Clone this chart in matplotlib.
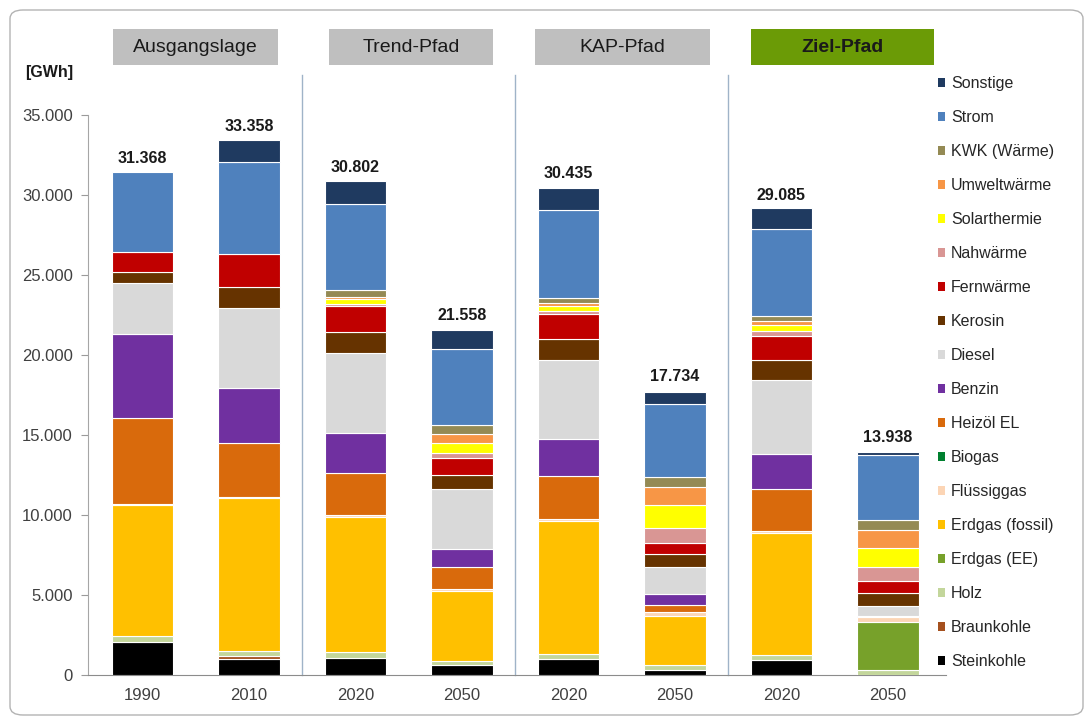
import numpy as np
import matplotlib
matplotlib.use("Agg")
import matplotlib.pyplot as plt
from matplotlib.patches import Patch, Rectangle, FancyBboxPatch
from matplotlib.ticker import FuncFormatter

plt.rcParams['font.family'] = ['Liberation Sans', 'DejaVu Sans']

# --- Daten [GWh] ---
bar_labels = ['1990', '2010', '2020', '2050', '2020', '2050', '2020', '2050']
groups = ['Ausgangslage', 'Trend-Pfad', 'KAP-Pfad', 'Ziel-Pfad']
totals = [31368, 33358, 30802, 21558, 30435, 17734, 29085, 13938]

steinkohle = [2090, 970, 1070, 620, 1030, 340, 940, 0]
braunkohle = [0, 220, 0, 0, 0, 0, 0, 0]
holz = [340, 280, 340, 250, 310, 280, 280, 310]
erdgas_ee = [0, 0, 0, 0, 0, 0, 0, 3010]
erdgas_fossil = [8170, 9580, 8450, 4400, 8270, 3090, 7670, 0]
fluessiggas = [60, 100, 120, 130, 120, 250, 120, 290]
biogas = [0, 0, 0, 0, 0, 0, 0, 0]
heizoel = [5430, 3370, 2620, 1340, 2710, 440, 2620, 0]
benzin = [5210, 3400, 2500, 1120, 2340, 660, 2180, 90]
diesel = [3210, 4990, 5050, 3740, 4930, 1680, 4620, 620]
kerosin = [690, 1370, 1290, 870, 1310, 840, 1250, 790]
fernwaerme = [1250, 2060, 1650, 1120, 1560, 690, 1500, 770]
nahwaerme = [0, 0, 120, 310, 160, 940, 310, 840]
solarthermie = [0, 0, 310, 620, 310, 1400, 370, 1220]
umweltwaerme = [0, 0, 120, 530, 190, 1120, 250, 1120]
kwk = [0, 0, 420, 590, 310, 620, 310, 620]
strom = [4980, 5700, 5350, 4740, 5490, 4600, 5460, 4050]
sonstige = [0, 1380, 1450, 1190, 1420, 750, 1290, 190]

# Reihenfolge von unten nach oben
series = [
    ('Steinkohle', steinkohle, '#000000'),
    ('Braunkohle', braunkohle, '#A5501E'),
    ('Holz', holz, '#C3D69B'),
    ('Erdgas (EE)', erdgas_ee, '#77A12A'),
    ('Erdgas (fossil)', erdgas_fossil, '#FFC000'),
    ('Flüssiggas', fluessiggas, '#FCD5B5'),
    ('Biogas', biogas, '#00802F'),
    ('Heizöl EL', heizoel, '#D96A0C'),
    ('Benzin', benzin, '#7030A0'),
    ('Diesel', diesel, '#D9D9D9'),
    ('Kerosin', kerosin, '#663300'),
    ('Fernwärme', fernwaerme, '#C00000'),
    ('Nahwärme', nahwaerme, '#D99694'),
    ('Solarthermie', solarthermie, '#FFFF00'),
    ('Umweltwärme', umweltwaerme, '#F79646'),
    ('KWK (Wärme)', kwk, '#948A54'),
    ('Strom', strom, '#4F81BD'),
    ('Sonstige', sonstige, '#1F3A60'),
]

W, H = 1089, 718
fig = plt.figure(figsize=(W / 100, H / 100), dpi=100)
ax = fig.add_axes([88 / W, (H - 675) / H, (946 - 88) / W, (675 - 115) / H])

x = np.arange(len(bar_labels))
bottom = np.zeros(len(x))
handles = []
for name, vals, color in series:
    vals = np.array(vals, dtype=float)
    lw = np.where(vals > 0, 0.8, 0.0)
    ax.bar(x, vals, bottom=bottom, width=0.575, color=color,
           edgecolor='white', linewidth=lw, zorder=3)
    bottom += vals
    handles.append(Patch(facecolor=color, edgecolor='none', label=name))

# Summen über den Balken
for xi, tot in zip(x, totals):
    ax.annotate(f"{tot:,}".replace(",", "."), (xi, tot), xytext=(0, 5),
                textcoords='offset points', ha='center', va='bottom',
                fontsize=11.5, fontweight='bold', color='#1a1a1a')

# Achsen
ax.set_xlim(-0.512, 7.545)
ax.set_ylim(0, 35000)
ax.set_yticks(np.arange(0, 35001, 5000))
ax.yaxis.set_major_formatter(FuncFormatter(lambda v, p: f"{v:,.0f}".replace(",", ".")))
ax.set_xticks(x)
ax.set_xticklabels(bar_labels)
ax.tick_params(axis='y', length=5, color='#9a9a9a', labelsize=12, labelcolor='#404040', pad=6)
ax.tick_params(axis='x', length=0, labelsize=12, labelcolor='#404040', pad=9)
for s in ['top', 'right']:
    ax.spines[s].set_visible(False)
ax.spines['left'].set_color('#a6a6a6')
ax.spines['bottom'].set_color('#8c8c8c')

# Trennlinien zwischen den Pfaden
for xv in [1.5, 3.5, 5.5]:
    ax.axvline(xv, ymin=0, ymax=(675 - 75) / (675 - 115), color='#9FB3C8',
               linewidth=1.0, clip_on=False, zorder=1)

# Kopfzeilen
header_px = [(113, 278), (329, 493), (535, 710), (751, 934)]
for (x0, x1), label in zip(header_px, groups):
    is_goal = label == 'Ziel-Pfad'
    fig.patches.append(Rectangle((x0 / W, (H - 65) / H), (x1 - x0) / W, 36 / H,
                                 transform=fig.transFigure,
                                 facecolor='#6B9B06' if is_goal else '#BFBFBF',
                                 edgecolor='none'))
    fig.text((x0 + x1) / 2 / W, (H - 47) / H, label, ha='center', va='center',
             fontsize=14, color='#1a1a1a', fontweight='bold' if is_goal else 'normal')

fig.text(49 / W, (H - 73) / H, '[GWh]', ha='center', va='center',
         fontsize=11.5, fontweight='bold', color='#1a1a1a')

# Legende
fig.legend(handles=handles[::-1], loc='upper left',
           bbox_to_anchor=(938 / W, (H - 76) / H), frameon=False,
           fontsize=11.5, handlelength=0.45, handleheight=0.45,
           handletextpad=0.35, labelspacing=1.19, labelcolor='#262626',
           borderaxespad=0, borderpad=0)

# Rahmen
fig.patches.append(FancyBboxPatch((10 / W, 3 / H), 1073 / W, 705 / H,
                                  boxstyle='round,pad=0,rounding_size=0.012',
                                  transform=fig.transFigure, facecolor='none',
                                  edgecolor='#b3b3b3', linewidth=1.0))

fig.savefig('out.png', dpi=100)
